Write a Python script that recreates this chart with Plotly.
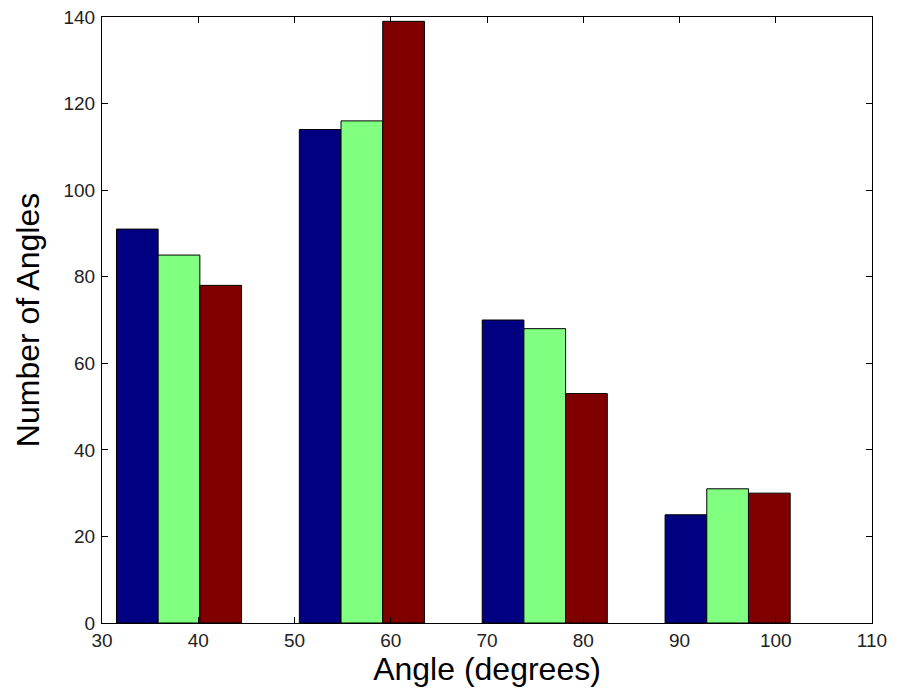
import plotly.graph_objects as go

centers = [38, 57, 76, 95]
series1 = [91, 114, 70, 25]
series2 = [85, 116, 68, 31]
series3 = [78, 139, 53, 30]
colors = ["#000080", "#80FF80", "#800000"]
x_ticks = [30, 40, 50, 60, 70, 80, 90, 100, 110]
y_ticks = [0, 20, 40, 60, 80, 100, 120, 140]

fig = go.Figure()
for vals, col in zip([series1, series2, series3], colors):
    fig.add_trace(go.Bar(x=centers, y=vals, marker=dict(color=col, line=dict(color="black", width=1)),
                         showlegend=False))

axis_common = dict(showline=True, linecolor="black", linewidth=1, mirror="ticks",
                   ticks="inside", ticklen=6, tickwidth=1, tickcolor="black",
                   showgrid=False, zeroline=False, automargin=False,
                   ticklabeloverflow="allow",
                   tickfont=dict(family="Liberation Sans, Arial", size=19, color="#222"))

fig.update_layout(
    width=900, height=683,
    margin=dict(l=94, r=36, t=9, b=68),
    plot_bgcolor="white", paper_bgcolor="white",
    barmode="group", bargap=0.316, bargroupgap=0,
    xaxis=dict(range=[30, 110], tickvals=x_ticks, title=dict(text="Angle (degrees)", standoff=7,
               font=dict(family="Liberation Sans, Arial", size=32, color="black")), **axis_common),
    yaxis=dict(range=[0, 140], tickvals=y_ticks, ticklabelstandoff=2,
               title=dict(text="Number of Angles", standoff=14,
               font=dict(family="Liberation Sans, Arial", size=32, color="black")), **axis_common),
)
fig.write_html("out.html")
